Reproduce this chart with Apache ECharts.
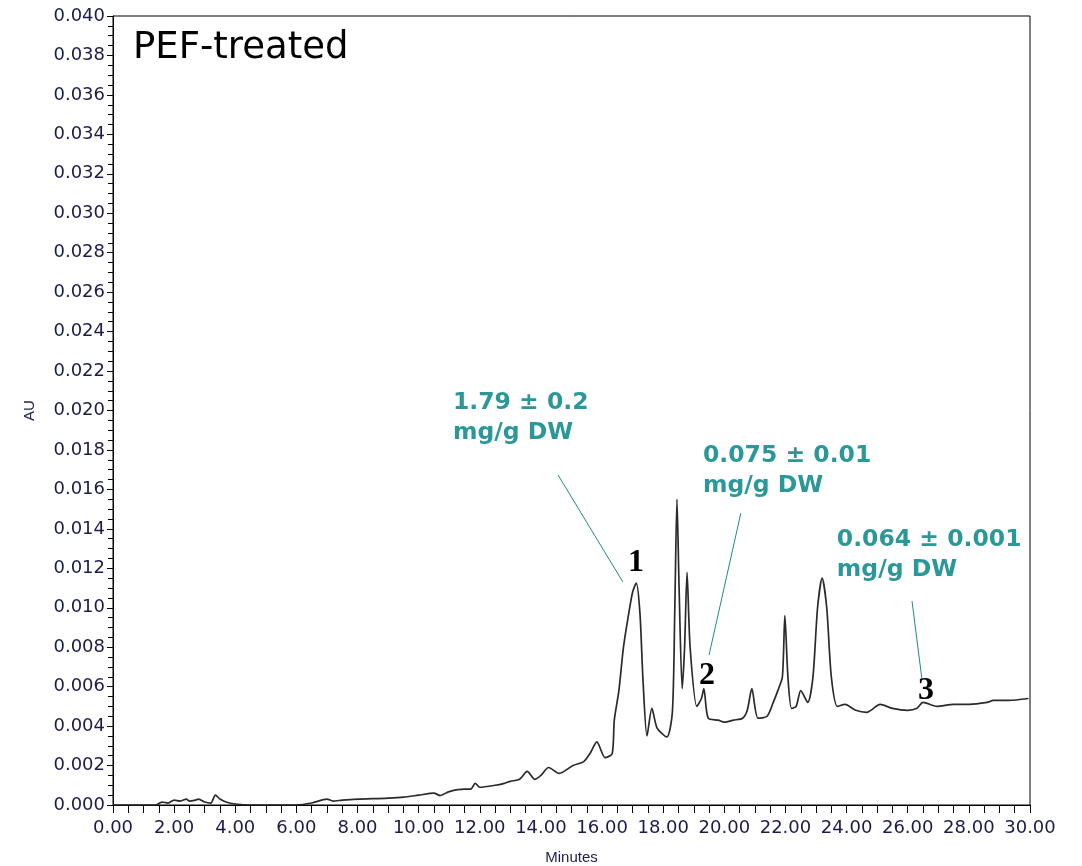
<!DOCTYPE html>
<html>
<head>
<meta charset="utf-8">
<script src="https://cdn.jsdelivr.net/npm/echarts@6/dist/echarts.min.js"></script>
<style>
  html, body { margin: 0; padding: 0; background: #fff; }
  #chart { width: 1082px; height: 866px; }
</style>
</head>
<body>
<div id="chart"></div>
<script>
// chromatogram trace (minutes, AU)
const minutes = [
  0.0, 0.5, 1.0, 1.4, 1.6, 1.8, 2.0, 2.2, 2.4, 2.5, 2.7, 2.8, 3.0, 3.2, 3.35, 3.5, 3.7,
  4.0, 4.5, 5.0, 5.5, 6.0, 6.5, 7.0, 7.2, 7.5, 8.0, 8.5, 9.0, 9.5, 10.0, 10.5, 10.7,
  11.0, 11.5, 11.7, 11.85, 12.0, 12.5, 12.8, 13.0, 13.3, 13.55, 13.8, 14.0, 14.25, 14.6,
  15.05, 15.4, 15.6, 15.83, 16.1, 16.33, 16.4, 16.55, 16.7, 16.85, 17.0, 17.12, 17.24,
  17.34, 17.47, 17.63, 17.8, 18.12, 18.3, 18.38, 18.45, 18.52, 18.62, 18.7, 18.78, 18.88,
  19.1, 19.25, 19.33, 19.47, 19.8, 20.0, 20.3, 20.6, 20.75, 20.9, 21.1, 21.4, 21.6, 21.75,
  21.9, 21.98, 22.08, 22.2, 22.35, 22.5, 22.73, 22.9, 23.05, 23.2, 23.35, 23.5, 23.7,
  23.95, 24.3, 24.66, 25.1, 25.5, 26.0, 26.3, 26.5, 26.95, 27.5, 28.0, 28.6, 28.8, 29.3, 29.95
];
const au = [
  0.0000, 0.0000, 0.0000, 0.0000, 0.00015, 0.0001, 0.00025, 0.0002, 0.0003, 0.0002, 0.00025, 0.0003, 0.00015, 0.0001, 0.0005, 0.0003, 0.00015,
  0.00005, 0.0000, 0.0000, 0.0000, 0.0000, 0.0001, 0.0003, 0.0002, 0.00025, 0.0003, 0.00032, 0.00035, 0.0004, 0.0005, 0.0006, 0.00048,
  0.00068, 0.0008, 0.0008, 0.0011, 0.0009, 0.0010, 0.0011, 0.0012, 0.0013, 0.0017, 0.0013, 0.0015, 0.0019, 0.0016,
  0.0020, 0.0022, 0.0026, 0.0032, 0.0024, 0.0026, 0.0043, 0.0058, 0.0080, 0.0095, 0.0108, 0.01125, 0.0097,
  0.0063, 0.0035, 0.0049, 0.0039, 0.00345, 0.0047, 0.0100, 0.0155, 0.0110, 0.0059, 0.0080, 0.0118, 0.0080,
  0.0050, 0.0054, 0.0059, 0.0044, 0.0043, 0.0042, 0.0043, 0.0044, 0.0048, 0.0059, 0.0044, 0.0045, 0.0052, 0.0058,
  0.0065, 0.0096, 0.0065, 0.0049, 0.0050, 0.0058, 0.0052, 0.0065, 0.0100, 0.0115, 0.0100, 0.0065, 0.0050,
  0.0051, 0.0048, 0.0047, 0.0051, 0.0049, 0.0048, 0.0049, 0.0052, 0.0050, 0.0051, 0.0051, 0.0052, 0.0053, 0.0053, 0.0054
];

// annotations (data coordinates)
const peakNames = ['1', '2', '3'];
const peakPos = [[17.11, 0.01227], [19.43, 0.00654], [26.6, 0.00578]];
const noteLines = [['1.79 ± 0.2', 'mg/g DW'], ['0.075 ± 0.01', 'mg/g DW'], ['0.064 ± 0.001', 'mg/g DW']];
const notePos = [[11.12, 0.02104], [19.30, 0.01835], [23.68, 0.01409]];
const leaderFrom = [[14.56, 0.01673], [20.54, 0.01480], [26.14, 0.01034]];
const leaderTo = [[16.68, 0.01131], [19.50, 0.00760], [26.46, 0.00644]];

const axisText = '#1c1c48';
const teal = '#2a9898';

const chart = echarts.init(document.getElementById('chart'));

chart.setOption({
  animation: false,
  grid: {
    left: 113, right: 52, top: 16, bottom: 61,
    outerBoundsMode: 'none', containLabel: false,
    show: true, borderColor: '#000', borderWidth: 1
  },
  xAxis: {
    type: 'value', min: 0, max: 30, interval: 2,
    name: 'Minutes', nameLocation: 'middle', nameGap: 45,
    nameTextStyle: {color: axisText, fontFamily: 'Liberation Sans', fontSize: 15},
    axisLine: {lineStyle: {color: '#000', width: 1}},
    axisTick: {show: true, length: 8, inside: false, lineStyle: {color: '#000'}},
    minorTick: {show: true, splitNumber: 4, length: 8, lineStyle: {color: '#000'}},
    axisLabel: {
      color: axisText, fontFamily: 'DejaVu Sans', fontSize: 18, margin: 14,
      formatter: v => v.toFixed(2)
    },
    splitLine: {show: false}
  },
  yAxis: {
    type: 'value', min: 0, max: 0.04, interval: 0.002,
    name: 'AU', nameLocation: 'middle', nameGap: 76,
    nameTextStyle: {color: axisText, fontFamily: 'Liberation Sans', fontSize: 15},
    axisLine: {show: true, lineStyle: {color: '#000', width: 1}},
    axisTick: {show: true, length: 6, lineStyle: {color: '#000'}},
    minorTick: {show: true, splitNumber: 4, length: 5, lineStyle: {color: '#000'}},
    axisLabel: {
      color: axisText, fontFamily: 'DejaVu Sans', fontSize: 18, margin: 8,
      formatter: v => v.toFixed(3)
    },
    splitLine: {show: false}
  },
  series: [{
    type: 'line',
    data: minutes.map((m, i) => [m, au[i]]),
    showSymbol: false,
    smooth: 0.25,
    lineStyle: {color: '#2a2a2a', width: 1.7},
    markLine: {
      silent: true,
      symbol: ['none', 'none'],
      label: {show: false},
      lineStyle: {color: '#1f8a8a', width: 1, type: 'solid'},
      data: leaderFrom.map((p, i) => [{coord: p}, {coord: leaderTo[i]}])
    }
  }]
});

// text overlays placed through the grid's own scale
const toPx = p => chart.convertToPixel({gridIndex: 0}, p);
const graphics = [{
  type: 'text', left: 133, top: 30,
  style: {text: 'PEF-treated', fill: '#000', font: '37px "DejaVu Sans"'}
}];
noteLines.forEach((lines, i) => {
  const [x, y] = toPx(notePos[i]);
  graphics.push({
    type: 'text', x: x, y: y - 2,
    style: {
      text: lines.join('\n'), fill: teal, font: 'bold 23.5px "DejaVu Sans"',
      lineHeight: 30, textVerticalAlign: 'top'
    }
  });
});
peakNames.forEach((n, i) => {
  const [x, y] = toPx(peakPos[i]);
  graphics.push({
    type: 'text', x: x, y: y,
    style: {
      text: n, fill: '#000', font: 'bold 32px "Liberation Serif"',
      textAlign: 'center', textVerticalAlign: 'middle'
    }
  });
});
chart.setOption({graphic: graphics});
</script>
</body>
</html>
